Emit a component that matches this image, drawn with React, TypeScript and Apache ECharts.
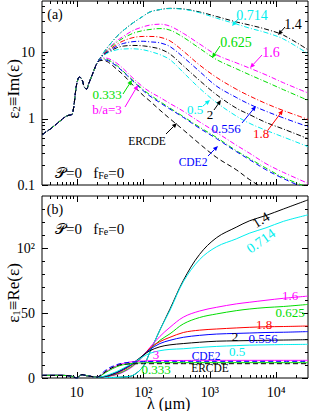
import React, { useEffect, useRef } from 'react';
import * as echarts from 'echarts';

// ---------- data (wavelength in micron) ----------
const lamBase = [3, 3.5, 4, 5, 6, 7, 8, 8.5, 9, 9.5, 10, 11, 12, 13, 14, 15, 16, 18, 20];
const eps2Base = [0.57, 0.64, 0.7, 0.84, 0.98, 1.1, 1.14, 1.16, 1.5, 2.4, 3.4, 4.3, 3.9, 3.0, 2.8, 3.3, 3.9, 5.3, 6.8];
const eps1Base = [2.0, 2.0, 2.0, 2.0, 2.0, 1.9, 1.6, 1.3, 0.8, 0.2, 0.0, 1.5, 2.6, 2.2, 1.8, 1.5, 1.3, 0.9, 0.6];
const lamTail = [22, 25, 30, 40, 50, 70, 100, 126, 178, 252, 400, 700, 1270, 2500, 4000, 7000, 12800, 30000];

// eps2 = Im(eps) on lamTail
const e2_ERCDE = [7.5, 7.6, 7.1, 5.6, 4.6, 3.2, 2.25, 1.85, 1.35, 1.0, 0.68, 0.42, 0.26, 0.17, 0.12, 0.085, 0.06, 0.035];
const e2_CDE2 = [7.7, 7.8, 7.5, 6.2, 5.1, 3.7, 2.65, 2.2, 1.75, 1.4, 1.05, 0.72, 0.5, 0.32, 0.24, 0.17, 0.125, 0.085];
const e2_0333 = [7.8, 8.0, 7.7, 6.4, 5.2, 3.8, 2.75, 2.3, 1.82, 1.45, 1.08, 0.75, 0.52, 0.33, 0.25, 0.18, 0.13, 0.092];
const e2_3 = [7.9, 8.3, 8.1, 6.9, 5.7, 4.1, 3.0, 2.55, 2.1, 1.7, 1.3, 0.9, 0.62, 0.4, 0.3, 0.21, 0.155, 0.106];
const e2_14 = [8.0, 9.8, 12.5, 17.5, 21.5, 28, 35.5, 41, 44.5, 46.5, 45.5, 41, 35, 29, 26, 22.5, 18.3, 11.0];
const e2_0714 = [8.0, 9.8, 12.5, 17.5, 21.5, 28, 35.5, 41, 44.5, 46, 45, 40, 33, 27, 23.3, 20, 16, 9.6];
const e2_16 = [8.0, 9.5, 11.5, 15, 17.5, 21.5, 24.5, 26, 26.8, 25, 19.5, 13.5, 9.2, 7.0, 5.8, 4.6, 3.5, 2.45];
const e2_0625 = [8.0, 9.4, 11.2, 14.3, 16.5, 19.5, 21.5, 22.3, 23, 21.8, 17, 11.6, 7.8, 5.7, 4.6, 3.6, 2.75, 1.9];
const e2_18 = [8.0, 9.3, 10.8, 13.3, 15, 16.8, 17.5, 17.5, 17, 15, 10.5, 6.5, 4.2, 2.8, 2.2, 1.7, 1.33, 0.98];
const e2_0556 = [8.0, 9.2, 10.5, 12.5, 13.7, 14.6, 14.8, 14.5, 14, 12.3, 8.5, 5.2, 3.1, 2.1, 1.65, 1.3, 1.03, 0.76];
const e2_2 = [8.0, 9.1, 10.2, 11.8, 12.5, 12.8, 12.6, 12.2, 11.3, 9.5, 6.3, 3.8, 2.3, 1.45, 1.15, 0.88, 0.7, 0.5];
const e2_05 = [8.0, 9.0, 10.0, 11.0, 11.3, 11.4, 11.0, 10.4, 9.3, 7.8, 5.0, 2.9, 1.75, 1.1, 0.85, 0.67, 0.53, 0.38];

// eps1 = Re(eps) on lamTail
const e1_ERCDE = [1.5, 3.5, 6.5, 9.5, 10.5, 10.9, 11.0, 11.0, 11.0, 11.0, 11.0, 11.0, 11.0, 11.0, 11.0, 11.0, 11.0, 11.0];
const e1_CDE2 = [1.8, 4.5, 7.5, 10.3, 11.5, 12.3, 12.6, 12.7, 12.8, 12.8, 12.8, 12.8, 12.8, 12.8, 12.8, 12.8, 12.8, 12.8];
const e1_0333 = [1.2, 3.0, 5.5, 8.7, 10.2, 11.3, 11.7, 11.8, 11.8, 11.8, 11.8, 11.8, 11.8, 11.8, 11.8, 11.8, 11.8, 11.8];
const e1_3 = [1.3, 3.3, 6.0, 9.5, 11.2, 12.6, 13.1, 13.3, 13.4, 13.5, 13.5, 13.6, 13.6, 13.6, 13.6, 13.6, 13.6, 13.6];
const e1_14 = [0.5, 0.4, 0.4, 0.5, 0.8, 2.0, 9, 20, 37, 53, 75, 95, 108, 116, 121, 125, 130, 137];
const e1_0714 = [0.5, 0.4, 0.4, 0.5, 0.8, 2.0, 9, 20, 37, 52, 74, 91, 101, 107, 111.5, 115.5, 120.5, 125.5];
const e1_16 = [0.6, 0.8, 1.3, 2.6, 4.5, 9, 17, 23.5, 32, 39, 46.8, 51.5, 54.4, 57, 58.3, 59.8, 61.3, 63];
const e1_0625 = [0.6, 0.8, 1.4, 3.0, 5.0, 9.5, 17, 22, 29, 34, 41.6, 46.5, 49.3, 51.8, 53.1, 54.2, 55, 56.6];
const e1_18 = [0.6, 0.9, 1.6, 3.5, 6.0, 10.5, 17.5, 23, 28, 31.3, 35, 36.8, 37.7, 38.5, 39, 39.4, 39.6, 40];
const e1_0556 = [0.6, 1.0, 1.8, 4.0, 6.5, 11, 17.5, 22, 26.5, 29, 31.3, 32.8, 33.8, 34.3, 34.6, 35, 35.2, 35.7];
const e1_2 = [0.6, 1.0, 2.0, 4.5, 7.0, 11.5, 17.5, 21, 24, 25.5, 26.5, 27.5, 28.3, 28.6, 28.8, 29, 29.2, 29.5];
const e1_05 = [0.7, 1.2, 2.5, 5.0, 7.5, 11.5, 16.5, 19, 21, 22, 22.5, 23.5, 24.3, 24.9, 25.3, 25.5, 25.7, 25.9];

const xTickLabels = ['10', '10²', '10³', '10⁴'];
const yTickLabelsA = ['0.1', '1', '10'];
const yTickLabelsB = ['0', '50', '10²'];

// ---------- styling ----------
const BLACK = '#000000';
const BLUE = '#0000ff';
const RED = '#ff0000';
const GREEN = '#00dd00';
const MAGENTA = '#ff00ff';
const CYAN = '#00eeee';
const SERIF = 'Liberation Serif, DejaVu Serif, serif';
const DASHDOT = [5, 2, 1, 2];
const DASHED = [5, 3];

const models = [
  { name: '1.4', color: BLACK, e2: e2_14, e1: e1_14, dashed: false },
  { name: '0.714', color: CYAN, e2: e2_0714, e1: e1_0714, dashed: false },
  { name: '1.6', color: MAGENTA, e2: e2_16, e1: e1_16, dashed: false },
  { name: '0.625', color: GREEN, e2: e2_0625, e1: e1_0625, dashed: false },
  { name: '1.8', color: RED, e2: e2_18, e1: e1_18, dashed: false },
  { name: '0.556', color: BLUE, e2: e2_0556, e1: e1_0556, dashed: false },
  { name: '2', color: BLACK, e2: e2_2, e1: e1_2, dashed: false },
  { name: '0.5', color: CYAN, e2: e2_05, e1: e1_05, dashed: false },
  { name: '3', color: MAGENTA, e2: e2_3, e1: e1_3, dashed: false },
  { name: '0.333', color: GREEN, e2: e2_0333, e1: e1_0333, dashed: false },
  { name: 'CDE2', color: BLUE, e2: e2_CDE2, e1: e1_CDE2, dashed: true },
  { name: 'ERCDE', color: BLACK, e2: e2_ERCDE, e1: e1_ERCDE, dashed: true },
];

const lg = Math.log10;
const X_MIN = lg(3);
const X_MAX = lg(30000);
const xMajor = [1, 2, 3, 4];
const xMinor: number[] = [];
for (let n = 0; n <= 4; n++) {
  for (let k = 2; k <= 9; k++) {
    const v = lg(k * Math.pow(10, n));
    if (v > X_MIN + 1e-6 && v < X_MAX - 1e-6) xMinor.push(v);
  }
}
const YA_MIN = -1;
const YA_MAX = lg(60);
const yAMajor = [-1, 0, 1];
const yAMinor: number[] = [];
for (let n = -1; n <= 1; n++) {
  for (let k = 2; k <= 9; k++) {
    const v = lg(k * Math.pow(10, n));
    if (v < YA_MAX - 1e-6) yAMinor.push(v);
  }
}
const yBMajor = [0, 50, 100];
const yBMinor = [10, 20, 30, 40, 60, 70, 80, 90, 110, 120, 130];

const GRID_A = { left: 42, top: 1, width: 266, height: 184 };
const GRID_B = { left: 42, top: 196, width: 266, height: 182 };

function axis(kind: 'x' | 'y', gridIndex: number, position: string, min: number, max: number,
  ticks: number[], len: number, labels?: { values: number[]; texts: string[] }) {
  return {
    type: 'value',
    gridIndex,
    position,
    min,
    max,
    axisLine: { show: false, onZero: false },
    splitLine: { show: false },
    axisTick: { show: true, inside: true, length: len, customValues: ticks, lineStyle: { color: '#000', width: 1 } },
    axisLabel: labels
      ? {
          show: true,
          customValues: labels.values,
          margin: kind === 'x' ? 7 : 7,
          color: '#000',
          fontFamily: SERIF,
          fontSize: 14,
          formatter: (v: number) => {
            let best = 0;
            let bd = Infinity;
            labels.values.forEach((lv, i) => {
              const d = Math.abs(lv - v);
              if (d < bd) { bd = d; best = i; }
            });
            return labels.texts[best];
          },
        }
      : { show: false },
  };
}

function arrow(x1: number, y1: number, x2: number, y2: number, color: string) {
  const ang = Math.atan2(y2 - y1, x2 - x1);
  const L = 5, W = 2.2;
  const bx = x2 - L * Math.cos(ang);
  const by = y2 - L * Math.sin(ang);
  const px = -Math.sin(ang) * W;
  const py = Math.cos(ang) * W;
  return [
    { type: 'line', z: 100, shape: { x1, y1, x2: bx, y2: by }, style: { stroke: color, lineWidth: 1 } },
    { type: 'polygon', z: 100, shape: { points: [[x2, y2], [bx + px, by + py], [bx - px, by - py]] }, style: { fill: color } },
  ];
}

function label(text: string, x: number, y: number, color: string, size = 14, rotation = 0) {
  return {
    type: 'text', z: 100, x, y, rotation,
    style: { text, fill: color, font: `${size}px ${SERIF}`, align: 'center', verticalAlign: 'middle' },
  };
}

export default function App() {
  const ref = useRef<HTMLDivElement>(null);
  useEffect(() => {
    if (!ref.current) return;
    const chart = echarts.init(ref.current, undefined, { renderer: 'svg' });
    const lamAll = [...lamBase, ...lamTail];

    const series: any[] = [];
    models.forEach((m) => {
      const e2 = [...eps2Base, ...m.e2];
      const e1 = [...eps1Base, ...m.e1];
      series.push({
        type: 'line', name: m.name + ' a', xAxisIndex: 0, yAxisIndex: 0,
        data: lamAll.map((l, i) => [lg(l), lg(e2[i])]),
        showSymbol: false, smooth: 0.35, clip: true,
        lineStyle: { color: m.color, width: 1, type: m.dashed ? DASHED : DASHDOT },
      });
      series.push({
        type: 'line', name: m.name + ' b', xAxisIndex: 4, yAxisIndex: 4,
        data: lamAll.map((l, i) => [lg(l), e1[i]]),
        showSymbol: false, smooth: 0.35, clip: true,
        lineStyle: { color: m.color, width: 1, type: m.dashed ? DASHED : 'solid' },
      });
    });

    const xLab = { values: xMajor, texts: xTickLabels };
    const xAxis = [
      axis('x', 0, 'bottom', X_MIN, X_MAX, xMajor, 6),
      axis('x', 0, 'bottom', X_MIN, X_MAX, xMinor, 3),
      axis('x', 0, 'top', X_MIN, X_MAX, xMajor, 6),
      axis('x', 0, 'top', X_MIN, X_MAX, xMinor, 3),
      axis('x', 1, 'bottom', X_MIN, X_MAX, xMajor, 6, xLab),
      axis('x', 1, 'bottom', X_MIN, X_MAX, xMinor, 3),
      axis('x', 1, 'top', X_MIN, X_MAX, xMajor, 6),
      axis('x', 1, 'top', X_MIN, X_MAX, xMinor, 3),
    ];
    const yAxis = [
      axis('y', 0, 'left', YA_MIN, YA_MAX, yAMajor, 6, { values: yAMajor, texts: yTickLabelsA }),
      axis('y', 0, 'left', YA_MIN, YA_MAX, yAMinor, 3),
      axis('y', 0, 'right', YA_MIN, YA_MAX, yAMajor, 6),
      axis('y', 0, 'right', YA_MIN, YA_MAX, yAMinor, 3),
      axis('y', 1, 'left', 0, 140, yBMajor, 6, { values: yBMajor, texts: yTickLabelsB }),
      axis('y', 1, 'left', 0, 140, yBMinor, 3),
      axis('y', 1, 'right', 0, 140, yBMajor, 6),
      axis('y', 1, 'right', 0, 140, yBMinor, 3),
    ];

    const graphic: any[] = [
      label('(a)', 55, 14, '#000', 14),
      label('(b)', 55, 209, '#000', 14),
      {
        type: 'text', z: 100, x: 13, y: 89, rotation: Math.PI / 2,
        style: {
          text: '{e|ε}{s|2}{e|≡Im(ε)}', align: 'center', verticalAlign: 'middle',
          rich: { e: { fontFamily: SERIF, fontSize: 17, fill: '#000' }, s: { fontFamily: SERIF, fontSize: 11, verticalAlign: 'bottom', fill: '#000' } },
        },
      },
      {
        type: 'text', z: 100, x: 13, y: 293, rotation: Math.PI / 2,
        style: {
          text: '{e|ε}{s|1}{e|≡Re(ε)}', align: 'center', verticalAlign: 'middle',
          rich: { e: { fontFamily: SERIF, fontSize: 17, fill: '#000' }, s: { fontFamily: SERIF, fontSize: 11, verticalAlign: 'bottom', fill: '#000' } },
        },
      },
      {
        type: 'text', z: 100, x: 147, y: 403,
        style: { text: 'λ (μm)', font: `16px ${SERIF}`, fill: '#000', align: 'left', verticalAlign: 'middle' },
      },
    ];
    [173, 229].forEach((yy) => {
      graphic.push({
        type: 'text', z: 100, x: 55, y: yy,
        style: {
          text: '{t|𝒫=0   f}{s|Fe}{t|=0}', align: 'left', verticalAlign: 'middle',
          rich: { t: { fontFamily: SERIF, fontSize: 15, fill: '#000' }, s: { fontFamily: SERIF, fontSize: 10, verticalAlign: 'bottom', fill: '#000' } },
        },
      });
    });

    // panel (a) annotations
    const annA: [string, number, number, string, number, number, number, number, number][] = [
      ['0.714', 252, 15, CYAN, 238, 19, 232, 26, 14],
      ['1.4', 293, 24, BLACK, 285, 27, 278, 35, 14],
      ['0.625', 236, 42, GREEN, 220, 46, 212, 58, 14],
      ['1.6', 271, 52, MAGENTA, 262, 55, 250, 68, 14],
      ['0.5', 195, 109, CYAN, 203, 106, 210, 100, 13],
      ['2', 210, 114, BLACK, 214, 110, 221, 100, 13],
      ['0.556', 226, 128, BLUE, 242, 123, 256, 106, 13],
      ['1.8', 261, 133, RED, 268, 130, 283, 110, 13],
      ['CDE2', 193, 162, BLUE, 208, 156, 218, 146, 11.5],
      ['ERCDE', 147, 141, BLACK, 166, 134, 177, 123, 11.5],
      ['0.333', 107, 94, GREEN, 123, 94, 132, 80, 13],
      ['b/a=3', 107, 109, MAGENTA, 125, 107, 138, 85, 13],
    ];
    annA.forEach(([t, x, y, c, x1, y1, x2, y2, s]) => {
      graphic.push(label(t, x, y, c, s));
      graphic.push(...arrow(x1, y1, x2, y2, c));
    });

    // panel (b) annotations
    const annB: [string, number, number, string, number, number][] = [
      ['1.4', 261, 220, BLACK, 14, 0.55],
      ['0.714', 261, 241, CYAN, 14, 0.62],
      ['1.6', 290, 295, MAGENTA, 13, 0],
      ['0.625', 290, 312, GREEN, 13, 0],
      ['1.8', 264, 324, RED, 13, 0],
      ['2', 235, 336, BLACK, 13, 0],
      ['0.556', 263, 338, BLUE, 13, 0],
      ['0.5', 237, 351, CYAN, 13, 0],
      ['3', 156, 354, MAGENTA, 13, 0],
      ['CDE2', 206, 356, BLUE, 11.5, 0],
      ['0.333', 156, 369, GREEN, 13, 0],
      ['ERCDE', 210, 368, BLACK, 11.5, 0],
    ];
    annB.forEach(([t, x, y, c, s, r]) => graphic.push(label(t, x, y, c, s, r)));

    chart.setOption({
      animation: false,
      backgroundColor: '#ffffff',
      grid: [
        { ...GRID_A, show: true, borderColor: '#000', borderWidth: 1, backgroundColor: 'transparent', containLabel: false },
        { ...GRID_B, show: true, borderColor: '#000', borderWidth: 1, backgroundColor: 'transparent', containLabel: false },
      ],
      xAxis,
      yAxis,
      series,
      graphic,
    });
    return () => chart.dispose();
  }, []);
  return <div ref={ref} style={{ position: 'fixed', left: 0, top: 0, width: 314, height: 411 }} />;
}
